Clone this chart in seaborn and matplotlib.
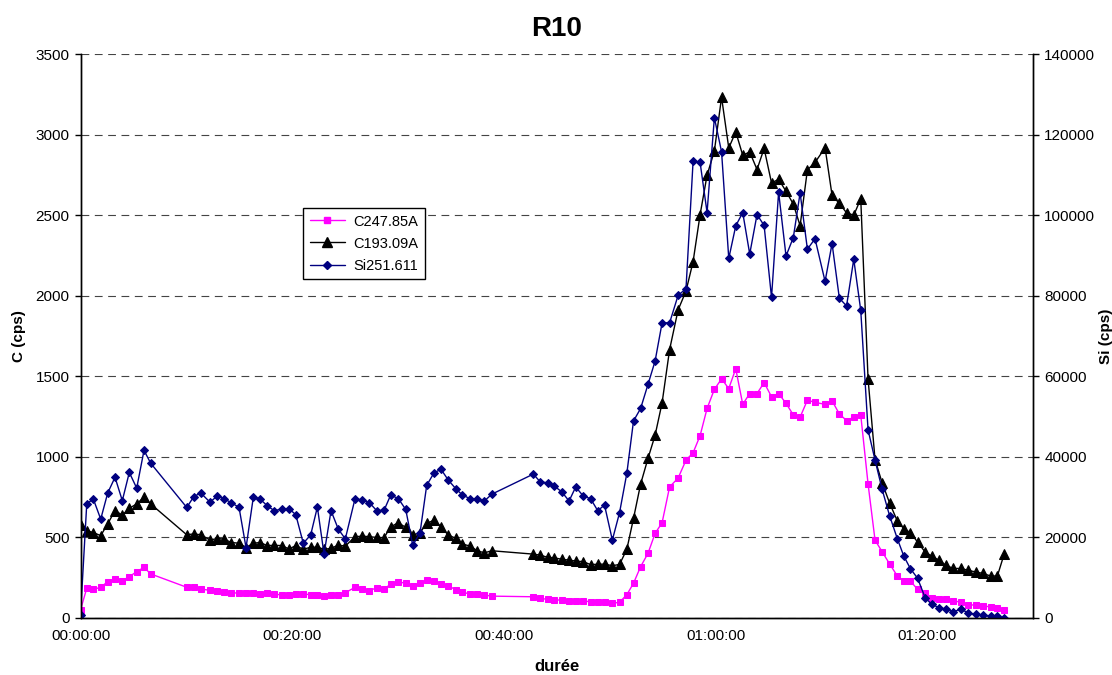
import pandas as pd
import seaborn as sns
import matplotlib.pyplot as plt
from matplotlib.ticker import FuncFormatter, MultipleLocator
from matplotlib.lines import Line2D

minutes = [0.00, 0.59, 1.21, 1.91, 2.57, 3.26, 3.95, 4.61, 5.31, 6.00, 6.63,
           10.04, 10.70, 11.36, 12.24, 12.93, 13.59, 14.25, 14.98, 15.64, 16.33,
           16.96, 17.65, 18.31, 19.01, 19.70, 20.34, 21.05, 21.75, 22.38, 23.01,
           23.67, 24.36, 25.02, 25.94, 26.63, 27.29, 27.99, 28.68, 29.31, 30.03,
           30.73, 31.39, 32.08, 32.71, 33.40, 34.06, 34.75, 35.48, 36.08, 36.80,
           37.49, 38.16, 38.86,
           42.79, 43.42, 44.15, 44.77, 45.47, 46.16, 46.79, 47.51, 48.19, 48.87,
           49.51, 50.25, 50.93, 51.62, 52.25, 52.92, 53.62, 54.29, 54.95, 55.66,
           56.46, 57.21, 57.88, 58.54, 59.20, 59.89, 60.57, 61.25, 61.91, 62.57,
           63.23, 63.92, 64.59, 65.29, 65.96, 66.66, 67.35, 67.99, 68.68, 69.40,
           70.35, 71.01, 71.70, 72.38, 73.06, 73.72, 74.41, 75.07, 75.74, 76.44,
           77.18, 77.79, 78.41, 79.09, 79.80, 80.43, 81.14, 81.78, 82.47, 83.17,
           83.89, 84.59, 85.28, 85.99, 86.63, 87.26]

c247 = [48, 183, 176, 189, 224, 241, 230, 255, 286, 313, 272,
        189, 189, 178, 170, 164, 158, 151, 156, 154, 151,
        147, 151, 147, 141, 141, 145, 147, 143, 143, 137,
        143, 143, 155, 189, 176, 168, 186, 180, 207, 224,
        213, 199, 217, 232, 230, 211, 197, 174, 159, 147,
        147, 141, 134,
        130, 120, 114, 110, 110, 104, 106, 104, 99, 99,
        96, 89, 96, 143, 214, 317, 400, 524, 590, 813,
        867, 979, 1025, 1131, 1300, 1419, 1484, 1424, 1547, 1326,
        1393, 1393, 1461, 1373, 1393, 1332, 1260, 1246, 1352, 1338,
        1326, 1348, 1266, 1225, 1246, 1260, 832, 482, 410, 335,
        259, 228, 228, 176, 151, 124, 114, 114, 104, 97,
        79, 79, 72, 68, 62, 48]

c193 = [577, 541, 529, 510, 583, 666, 637, 680, 707, 749, 707,
        515, 521, 515, 483, 492, 488, 467, 463, 436, 463,
        467, 448, 450, 448, 427, 448, 425, 438, 438, 425,
        431, 451, 445, 503, 507, 503, 499, 497, 565, 590,
        561, 513, 528, 586, 606, 565, 513, 493, 458, 445,
        416, 403, 416,
        395, 389, 375, 372, 363, 358, 352, 348, 330, 332,
        333, 323, 331, 425, 617, 830, 990, 1134, 1335, 1666,
        1912, 2030, 2213, 2504, 2750, 2900, 3234, 2919, 3019, 2874,
        2894, 2785, 2916, 2702, 2724, 2650, 2570, 2436, 2783, 2829,
        2920, 2625, 2574, 2516, 2501, 2603, 1485, 983, 838, 714,
        600, 553, 528, 470, 408, 383, 356, 325, 306, 306,
        294, 284, 275, 259, 259, 393]

si251 = [700, 28300, 29500, 24500, 31000, 34900, 29100, 36100, 32200, 41600, 38400,
         27400, 30100, 31000, 28700, 30300, 29500, 28600, 27400, 17400, 30000,
         29500, 27800, 26600, 27000, 27100, 25600, 18500, 20600, 27500, 15800,
         26600, 22000, 19600, 29600, 29200, 28600, 26600, 26700, 30500, 29600,
         26900, 18000, 21100, 32900, 36000, 36900, 34200, 32000, 30500, 29600,
         29500, 29000, 30700,
         35700, 33800, 33500, 32700, 31300, 29000, 32500, 30200, 29600, 26600,
         28000, 19300, 26100, 35900, 48900, 52000, 58000, 63800, 73300, 73300,
         80100, 81800, 113500, 113200, 100700, 124300, 115800, 89300, 97400, 100700,
         90400, 100200, 97500, 79600, 105800, 89900, 94500, 105600, 91600, 94200,
         83600, 93000, 79400, 77500, 89100, 76400, 46700, 39200, 31900, 25400,
         19600, 15300, 12200, 9800, 5000, 3300, 2500, 2100, 1500, 2100,
         1200, 800, 700, 400, 400, 0]

df = pd.DataFrame({"duree": minutes, "C247.85A": c247,
                   "C193.09A": c193, "Si251.611": si251})

sns.set_style("white")
plt.rcParams['font.family'] = ['Liberation Sans', 'DejaVu Sans']
plt.rcParams['text.color'] = "black"
plt.rcParams['axes.labelcolor'] = "black"

fig, ax = plt.subplots(figsize=(11.12, 6.75), dpi=100)
fig.subplots_adjust(left=0.0724, right=0.929, bottom=0.0849, top=0.9193)
ax2 = ax.twinx()

pink, navy = "#FF00FF", "#000080"
sns.lineplot(data=df, x="duree", y="C247.85A", ax=ax, color=pink, marker="s",
             markersize=5, markeredgecolor=pink, linewidth=1, sort=False)
sns.lineplot(data=df, x="duree", y="C193.09A", ax=ax, color="black", marker="^",
             markersize=6.5, markeredgecolor="black", linewidth=1, sort=False)
sns.lineplot(data=df, x="duree", y="Si251.611", ax=ax2, color=navy, marker="D",
             markersize=4.5, markeredgecolor=navy, linewidth=1, sort=False)

ax.set_xlim(0, 90)
ax.set_ylim(0, 3500)
ax2.set_ylim(0, 140000)
ax.xaxis.set_major_locator(MultipleLocator(20))
ax.xaxis.set_major_formatter(FuncFormatter(
    lambda v, _: f"{int(v // 60):02d}:{int(v % 60):02d}:00"))
ax.yaxis.set_major_locator(MultipleLocator(500))
ax2.yaxis.set_major_locator(MultipleLocator(20000))

ax.grid(axis="y", color="#444444", linestyle=(0, (7, 5)), linewidth=0.8)
ax.set_axisbelow(True)
for a in (ax, ax2):
    a.tick_params(direction="out", length=4, width=1, labelsize=11,
                  colors="black", pad=4)
    for s in a.spines.values():
        s.set_color("black")
        s.set_linewidth(1)
    a.spines["top"].set_visible(False)

ax.set_title("R10", fontsize=20, fontweight="bold", pad=13)
ax.set_xlabel("durée", fontsize=12, fontweight="bold", labelpad=12)
ax.set_ylabel("C (cps)", fontsize=11, fontweight="bold", labelpad=7)
ax2.set_ylabel("Si (cps)", fontsize=11, fontweight="bold", labelpad=3, rotation=90)

handles = [Line2D([], [], color=pink, marker="s", markersize=5, lw=1),
           Line2D([], [], color="black", marker="^", markersize=6.5, lw=1),
           Line2D([], [], color=navy, marker="D", markersize=4.5, lw=1)]
leg = ax2.legend(handles, ["C247.85A", "C193.09A", "Si251.611"],
                 loc="upper left", bbox_to_anchor=(0.2336, 0.7274),
                 frameon=True, fancybox=False, framealpha=1, edgecolor="black",
                 fontsize=10.5, handlelength=2.4, labelspacing=0.55,
                 borderpad=0.45, borderaxespad=0, handletextpad=0.6)
leg.get_frame().set_linewidth(1)

fig.savefig("out.png", dpi=100)
